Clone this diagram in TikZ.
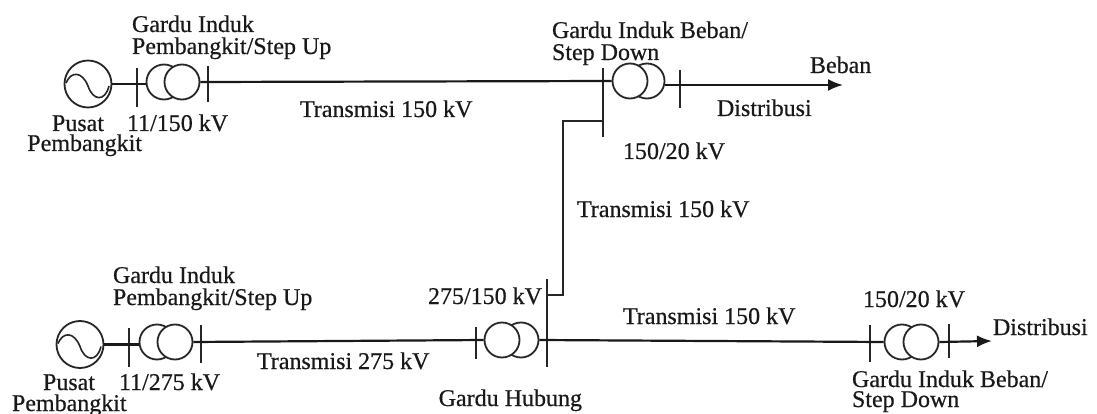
\documentclass[tikz,border=0pt]{standalone}
\usepackage{fontspec}
\setmainfont[RawFeature={embolden=0.5}]{Liberation Serif}
\usetikzlibrary{arrows.meta,calc}
\tikzset{
 wire/.style={line width=2.2pt,black!90},
 bar/.style={line width=1.9pt,black!85},
 flow/.style={wire,-{Latex[length=15pt,width=12pt]}},
 coil/.style={circle,draw=black!85,fill=white,line width=1.8pt,minimum size=35pt,inner sep=0pt},
 gen/.style={circle,draw=black!85,line width=1.8pt,minimum size=47pt,inner sep=0pt},
 lab/.style={inner sep=0pt,outer sep=0pt,text=black!90,font=\fontsize{24}{24}\selectfont},
}
\newcommand{\wave}[1]{\draw[line width=1.6pt,black!85] ($(#1)+(-22,-1)$) .. controls ($(#1)+(-17,-13)$) and ($(#1)+(-6,-13)$) .. ($(#1)+(0,2)$) .. controls ($(#1)+(5,17)$) and ($(#1)+(17,18)$) .. ($(#1)+(21,2)$);}
\begin{document}
\begin{tikzpicture}[x=1pt,y=-1pt]
\path[use as bounding box,fill=white] (0,0) rectangle (1097,414);
% top line
\node[gen] (g1) at (88,84) {};
\wave{g1}
\coordinate (b1a) at (137,68); \coordinate (b1b) at (137,107);
\coordinate (b2a) at (208,66); \coordinate (b2b) at (208,102);
\draw[bar] (b1a)--(b1b); \draw[bar] (b2a)--(b2b);
\node[coil] (t1a) at (164,82) {};
\node[coil] (t1b) at (182,82) {};
\draw[wire] (g1.east)--(g1.east-|t1a.west);
\coordinate (b3a) at (603,68); \coordinate (b3b) at (603,137);
\draw[bar] (b3a)--(b3b);
\node[coil] (t2b) at (647,81) {};
\node[coil] (t2a) at (630,81) {};
\draw[wire] (t1b.east)--(t2a.west);
\coordinate (b4a) at (680,70); \coordinate (b4b) at (680,108);
\draw[bar] (b4a)--(b4b);
\coordinate (load) at (843,85);
\draw[flow] (t2b.east|-load)--(load);
% branch
\coordinate (j1) at (603,121); \coordinate (j2) at (563,121);
\coordinate (j3) at (563,295); \coordinate (j4) at (547,295);
\draw[bar] (j1)--(j2)--(j3)--(j4);
% bottom line
\node[gen] (g2) at (80,344.5) {};
\wave{g2}
\coordinate (b5a) at (129,328); \coordinate (b5b) at (129,367);
\coordinate (b6a) at (201,325); \coordinate (b6b) at (201,363);
\draw[bar] (b5a)--(b5b); \draw[bar] (b6a)--(b6b);
\node[coil] (t3a) at (157,342) {};
\node[coil] (t3b) at (175,342) {};
\draw[wire] (g2.east)--(g2.east-|t3a.west);
\coordinate (b7a) at (476,327); \coordinate (b7b) at (476,359);
\coordinate (b8a) at (547,279); \coordinate (b8b) at (547,367);
\draw[bar] (b7a)--(b7b); \draw[bar] (b8a)--(b8b);
\node[coil] (t4b) at (521,340) {};
\node[coil] (t4a) at (502,340) {};
\draw[wire] (t3b.east)--(t4a.west);
\coordinate (b9a) at (870,325); \coordinate (b9b) at (870,362);
\coordinate (b10a) at (949,324); \coordinate (b10b) at (949,358);
\draw[bar] (b9a)--(b9b); \draw[bar] (b10a)--(b10b);
\node[coil] (t5a) at (902,342) {};
\node[coil] (t5b) at (921,342) {};
\draw[wire] (t4b.east)--(t5a.west);
\coordinate (dist) at (992,341);
\draw[flow] (t5b.east)--(dist);
% labels
\node[lab,anchor=base west] (l1) at (132,32) {Gardu Induk};
\node[lab,anchor=base west] (l2) at (132,54) {Pembangkit/Step Up};
\node[lab,anchor=base] (l3) at (78,131) {Pusat};
\node[lab,anchor=base east] (l4) at (142,151) {Pembangkit};
\node[lab,anchor=base west] (l5) at (127,131) {11/150 kV};
\node[lab,anchor=base west] (l6) at (300,117) {Transmisi 150 kV};
\node[lab,anchor=base west] (l7) at (552,38) {Gardu Induk Beban/};
\node[lab,anchor=base west] (l8) at (552,60) {Step Down};
\node[lab,anchor=base west] (l9) at (810,73) {Beban};
\node[lab,anchor=base west] (l10) at (717,116) {Distribusi};
\node[lab,anchor=base west] (l11) at (623,159) {150/20 kV};
\node[lab,anchor=base west] (l12) at (577,217) {Transmisi 150 kV};
\node[lab,anchor=base east] (l13) at (542,304) {275/150 kV};
\node[lab,anchor=base east] (l14) at (582,406) {Gardu Hubung};
\node[lab,anchor=base west] (l15) at (623,324) {Transmisi 150 kV};
\node[lab,anchor=base west] (l16) at (113,283) {Gardu Induk};
\node[lab,anchor=base west] (l17) at (113,305) {Pembangkit/Step Up};
\node[lab,anchor=base west] (l18) at (43,390) {Pusat};
\node[lab,anchor=base west] (l19) at (12,411) {Pembangkit};
\node[lab,anchor=base west] (l20) at (119,390) {11/275 kV};
\node[lab,anchor=base west] (l21) at (257,369) {Transmisi 275 kV};
\node[lab,anchor=base west] (l22) at (863,307) {150/20 kV};
\node[lab,anchor=base west] (l23) at (852,387) {Gardu Induk Beban/};
\node[lab,anchor=base west] (l24) at (852,407) {Step Down};
\node[lab,anchor=base west] (l25) at (993,335) {Distribusi};
\end{tikzpicture}
\end{document}
